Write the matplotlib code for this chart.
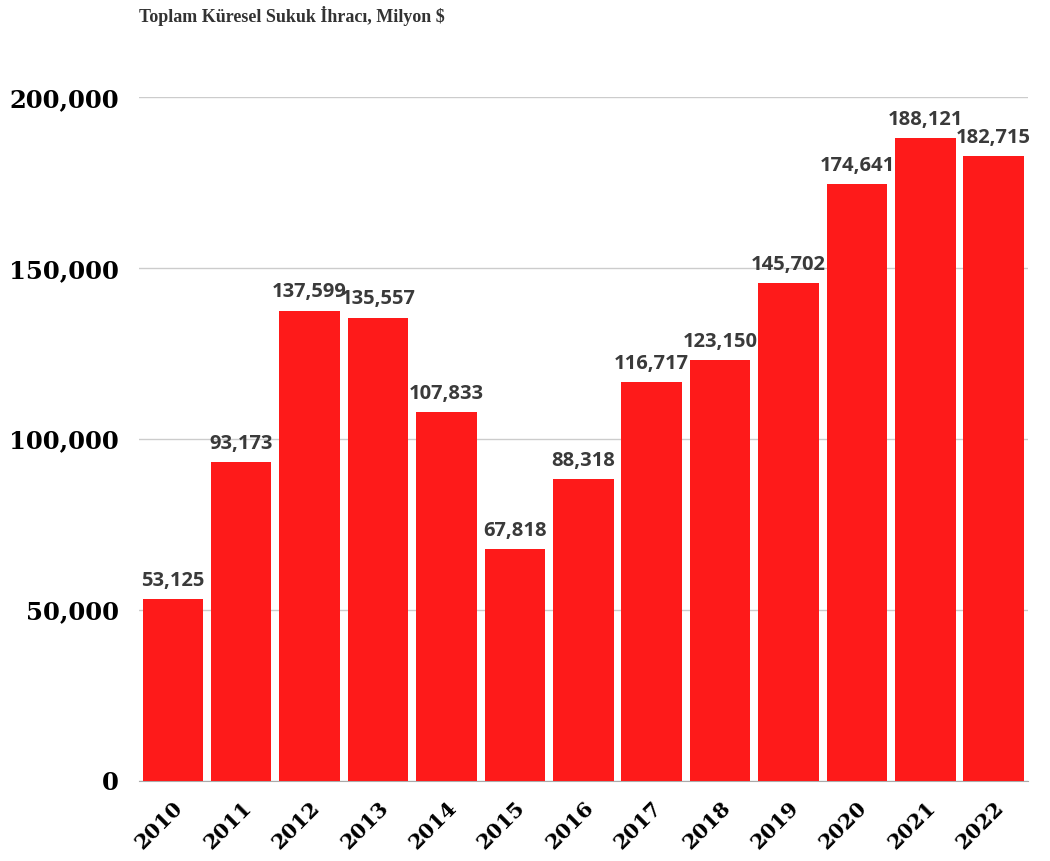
import numpy as np
import matplotlib.pyplot as plt

years = ["2010", "2011", "2012", "2013", "2014", "2015", "2016",
         "2017", "2018", "2019", "2020", "2021", "2022"]
issuance = [53125, 93173, 137599, 135557, 107833, 67818, 88318,
            116717, 123150, 145702, 174641, 188121, 182715]
yticks = [0, 50000, 100000, 150000, 200000]

fig = plt.figure(figsize=(10.5, 8.61), dpi=100)
ax = fig.add_axes([0.132, 0.093, 0.847, 0.794])

x = np.arange(len(years))
bars = ax.bar(x, issuance, width=0.885, color="#fe1a1a", zorder=3)

for xi, v in zip(x, issuance):
    ax.annotate(f"{v:,}", (xi, v), xytext=(0, 6), textcoords="offset points",
                ha="center", va="bottom", fontsize=14.5, fontweight="bold",
                family="Open Sans", color="#3a3a3a", annotation_clip=False)

ax.set_xlim(-0.5, len(years) - 0.5)
ax.set_ylim(0, 200000)
ax.set_yticks(yticks)
ax.set_yticklabels([f"{t:,}" for t in yticks], family="DejaVu Serif",
                   fontweight="bold", fontsize=17.5)
ax.set_xticks(x)
ax.set_xticklabels(years, rotation=45, ha="right", rotation_mode="anchor",
                   family="DejaVu Serif", fontweight="bold", fontsize=15)
ax.tick_params(length=0)
ax.tick_params(axis="y", pad=14)
ax.tick_params(axis="x", pad=12)

ax.grid(axis="y", color="#cccccc", linewidth=1, zorder=0)
for s in ["top", "right", "left"]:
    ax.spines[s].set_visible(False)
ax.spines["bottom"].set_color("#aaaaaa")
ax.set_axisbelow(True)

fig.text(0.132, 0.981, "Toplam Küresel Sukuk İhracı, Milyon $", ha="left",
         va="center", family="Liberation Serif", fontweight="bold",
         fontsize=13, color="#333333")

fig.savefig("out.png", dpi=100)
